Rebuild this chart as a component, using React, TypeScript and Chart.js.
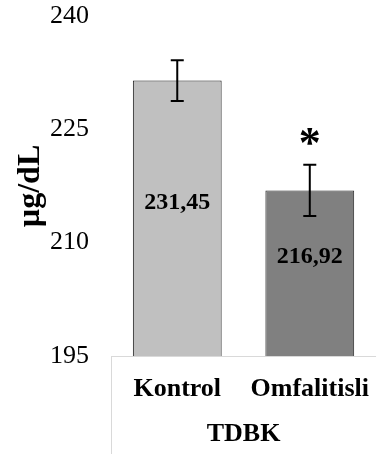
import React, { useEffect, useRef } from "react";
import { Chart, registerables } from "chart.js";

Chart.register(...registerables);

const categories = ["Kontrol", "Omfalitisli"];
const means = [231.45, 216.92];
const errors = [2.7, 3.4];
const valueLabels = ["231,45", "216,92"];
const significance = ["", "*"];
const yMin = 195;
const yMax = 240;
const yStep = 15;
const yTitle = "µg/dL";
const xTitle = "TDBK";

const FONT = "'Liberation Serif', 'Times New Roman', serif";

const overlayPlugin = {
  id: "overlay",
  afterDatasetsDraw(chart: any) {
    const { ctx, scales, chartArea } = chart;
    const y = scales.y;
    const meta = chart.getDatasetMeta(0);
    ctx.save();
    // axis box lines
    ctx.strokeStyle = "#d9d9d9";
    ctx.lineWidth = 1;
    ctx.beginPath();
    ctx.moveTo(chartArea.left + 0.5, chartArea.bottom);
    ctx.lineTo(chartArea.left + 0.5, chart.height);
    ctx.moveTo(chartArea.left, chartArea.bottom + 0.5);
    ctx.lineTo(chartArea.right, chartArea.bottom + 0.5);
    ctx.stroke();

    const basePx = y.getPixelForValue(yMin);
    meta.data.forEach((bar: any, i: number) => {
      const x = bar.x;
      const barTop = y.getPixelForValue(means[i]);
      const top = y.getPixelForValue(means[i] + errors[i]);
      const bot = y.getPixelForValue(means[i] - errors[i]);
      ctx.strokeStyle = "#000";
      ctx.lineWidth = 2;
      ctx.beginPath();
      ctx.moveTo(x, top);
      ctx.lineTo(x, bot);
      ctx.moveTo(x - 6.5, top);
      ctx.lineTo(x + 6.5, top);
      ctx.moveTo(x - 6.5, bot);
      ctx.lineTo(x + 6.5, bot);
      ctx.stroke();

      // value label
      const mid = (barTop + basePx) / 2;
      ctx.fillStyle = "#000";
      ctx.font = `bold 24px ${FONT}`;
      ctx.textAlign = "center";
      ctx.textBaseline = "middle";
      ctx.fillText(valueLabels[i], x, mid - 16);

      if (significance[i]) {
        ctx.font = `bold 44px ${FONT}`;
        ctx.textBaseline = "alphabetic";
        ctx.fillText(significance[i], x, top - 8);
      }
    });
    ctx.restore();
  },
};

export default function App() {
  const ref = useRef<HTMLCanvasElement>(null);
  useEffect(() => {
    if (!ref.current) return;
    const chart = new Chart(ref.current, {
      type: "bar",
      data: {
        labels: categories,
        datasets: [
          {
            data: means,
            backgroundColor: ["#c0c0c0", "#808080"],
            borderColor: ["#1a1a1a", "#262626"],
            borderWidth: 1,
            borderSkipped: "bottom",
            categoryPercentage: 1,
            barPercentage: 0.67,
          },
        ],
      },
      options: {
        responsive: false,
        animation: false,
        layout: { padding: { top: 0, right: 0, left: 0, bottom: 0 } },
        plugins: {
          legend: { display: false },
          tooltip: { enabled: false },
        },
        scales: {
          y: {
            min: yMin,
            max: yMax,
            grid: { display: false, drawTicks: false },
            border: { display: false },
            ticks: {
              stepSize: yStep,
              padding: 22,
              color: "#000",
              font: { family: FONT, size: 26 },
            },
            title: {
              display: true,
              text: yTitle,
              color: "#000",
              font: { family: FONT, size: 32, weight: "bold" },
              padding: { top: 12, bottom: 0 },
            },
            afterFit: (s: any) => {
              s.width = 111;
              s.paddingTop = 16;
              s.paddingBottom = 16;
            },
          },
          x: {
            grid: { display: false, drawTicks: false },
            border: { display: false },
            ticks: {
              padding: 18,
              color: "#000",
              font: { family: FONT, size: 26, weight: "bold" },
              maxRotation: 0,
              autoSkip: false,
            },
            title: {
              display: true,
              text: xTitle,
              color: "#000",
              font: { family: FONT, size: 26, weight: "bold" },
              padding: { top: 0, bottom: 4 },
            },
            afterFit: (s: any) => {
              s.height = 98;
            },
          },
        },
      },
      plugins: [overlayPlugin],
    });
    return () => chart.destroy();
  }, []);
  return (
    <div
      style={{
        position: "absolute",
        left: 0,
        top: 0,
        width: 379,
        height: 454,
        overflow: "hidden",
        background: "#fff",
      }}
    >
      <canvas ref={ref} width={387} height={454} style={{ width: 387, height: 454, display: "block" }} />
    </div>
  );
}
